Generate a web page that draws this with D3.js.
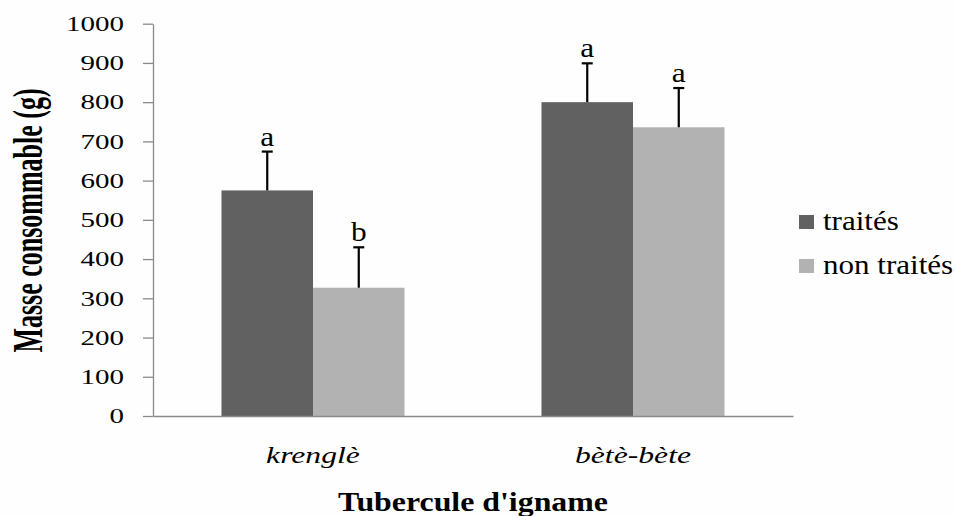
<!DOCTYPE html>
<html>
<head>
<meta charset="utf-8">
<script src="https://cdn.jsdelivr.net/npm/d3@7"></script>
<style>
  html, body { margin: 0; padding: 0; background: #fefefe; }
  svg { display: block; }
</style>
</head>
<body>
<script>
// ---- data ----
const categories = ["krenglè", "bètè-bète"];
const series = ["traités", "non traités"];
const traites = [575, 800];
const nonTraites = [327, 736];
const errTraites = [99, 99];
const errNonTraites = [103, 100];
const letterTraites = ["a", "a"];
const letterNonTraites = ["b", "a"];
const yTicks = [0, 100, 200, 300, 400, 500, 600, 700, 800, 900, 1000];

const colors = { "traités": "#616161", "non traités": "#b2b2b2" };
const SERIF = "'Liberation Serif', 'Times New Roman', serif";

const W = 955, H = 516;
const svg = d3.select("body").append("svg").attr("width", W).attr("height", H);
svg.append("rect").attr("width", W).attr("height", H).attr("fill", "#fefefe");

const pLeft = 153, pRight = 793, pTop = 23.7, pBottom = 416;

const x0 = d3.scaleBand().domain(categories).range([pLeft, pRight])
  .paddingInner(0.428).paddingOuter(0.214);
const x1 = d3.scaleBand().domain(series).range([0, x0.bandwidth()]);
const y = d3.scaleLinear().domain([0, 1000]).range([pBottom, pTop]);

const rows = categories.map((c, i) => ({
  cat: c,
  vals: [
    { s: series[0], v: traites[i], e: errTraites[i], l: letterTraites[i] },
    { s: series[1], v: nonTraites[i], e: errNonTraites[i], l: letterNonTraites[i] }
  ]
}));

// y axis
const yAxis = d3.axisLeft(y).tickValues(yTicks).tickFormat(d3.format("d"))
  .tickSizeInner(10).tickSizeOuter(0).tickPadding(0);
const gy = svg.append("g").attr("transform", `translate(${pLeft},0)`).call(yAxis);
gy.attr("font-family", SERIF);
gy.select(".domain").attr("stroke", "#8a8a8a").attr("stroke-width", 1.3);
gy.selectAll(".tick line").attr("stroke", "#8a8a8a").attr("stroke-width", 1.3);
gy.selectAll(".tick text")
  .attr("x", 0).attr("dy", "0.34em")
  .attr("transform", "translate(-29,0) scale(1.45,1)")
  .attr("font-family", SERIF)
  .attr("font-size", 20).attr("fill", "#000").attr("text-anchor", "end");

// bars
const groups = svg.append("g").selectAll("g").data(rows).join("g")
  .attr("transform", d => `translate(${x0(d.cat)},0)`);
groups.selectAll("rect").data(d => d.vals).join("rect")
  .attr("x", d => x1(d.s)).attr("width", x1.bandwidth())
  .attr("y", d => y(d.v)).attr("height", d => y(0) - y(d.v))
  .attr("fill", d => colors[d.s]);

// error bars
groups.selectAll("line.err").data(d => d.vals).join("line").attr("class", "err")
  .attr("x1", d => x1(d.s) + x1.bandwidth() / 2).attr("x2", d => x1(d.s) + x1.bandwidth() / 2)
  .attr("y1", d => y(d.v)).attr("y2", d => y(d.v + d.e))
  .attr("stroke", "#000").attr("stroke-width", 2.2);
groups.selectAll("line.cap").data(d => d.vals).join("line").attr("class", "cap")
  .attr("x1", d => x1(d.s) + x1.bandwidth() / 2 - 5.5).attr("x2", d => x1(d.s) + x1.bandwidth() / 2 + 5.5)
  .attr("y1", d => y(d.v + d.e)).attr("y2", d => y(d.v + d.e))
  .attr("stroke", "#000").attr("stroke-width", 2.2);
groups.selectAll("text.lt").data(d => d.vals).join("text").attr("class", "lt")
  .attr("transform", d => `translate(${x1(d.s) + x1.bandwidth() / 2},${y(d.v + d.e) - 6}) scale(1.12,1)`)
  .attr("text-anchor", "middle")
  .attr("font-family", SERIF)
  .attr("font-size", 28).attr("fill", "#000")
  .text(d => d.l);

// x axis
const xAxis = d3.axisBottom(x0).tickSize(0).tickSizeOuter(0);
const gx = svg.append("g").attr("transform", `translate(0,${pBottom})`).call(xAxis);
gx.attr("font-family", SERIF);
gx.select(".domain").attr("stroke", "#8a8a8a").attr("stroke-width", 1.3);
gx.selectAll(".tick text")
  .attr("y", 0).attr("dy", 0)
  .attr("transform", "translate(0,47) scale(1.32,1)")
  .attr("font-family", SERIF)
  .attr("font-style", "italic")
  .attr("font-size", 24).attr("fill", "#000");

// axis titles
svg.append("text")
  .attr("transform", "translate(473,511) scale(1.18,1)")
  .attr("text-anchor", "middle")
  .attr("font-family", SERIF)
  .attr("font-weight", "bold").attr("font-size", 27).attr("fill", "#000")
  .text("Tubercule d'igname");

svg.append("text")
  .attr("transform", "translate(42,220.5) scale(1.6,1) rotate(-90)")
  .attr("text-anchor", "middle")
  .attr("font-family", SERIF)
  .attr("font-weight", "bold").attr("font-size", 26).attr("fill", "#000")
  .text("Masse consommable (g)");

// legend
const lg = svg.append("g").selectAll("g").data(series).join("g")
  .attr("transform", (d, i) => `translate(799,${215 + i * 44})`);
lg.append("rect").attr("width", 15).attr("height", 14).attr("fill", d => colors[d]);
lg.append("text")
  .attr("transform", "translate(24,15) scale(1.15,1)")
  .attr("font-family", SERIF)
  .attr("font-size", 27).attr("fill", "#000")
  .text(d => d);
</script>
</body>
</html>
